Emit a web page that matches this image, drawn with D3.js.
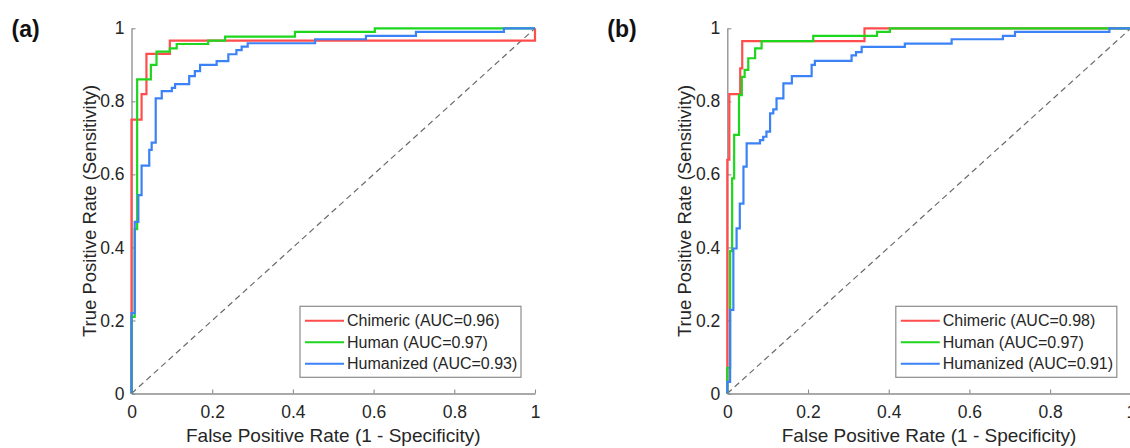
<!DOCTYPE html>
<html>
<head>
<meta charset="utf-8">
<script src="https://cdn.jsdelivr.net/npm/d3@7"></script>
<style>
  body { margin: 0; background: #fff; }
  svg { display: block; font-family: "Liberation Sans", Arial, sans-serif; }
</style>
</head>
<body>
<svg id="roc"></svg>
<script>
// ROC step points, panel (a)
const chimericA_fpr = [0, 0, 0.025, 0.037, 0.095, 1];
const chimericA_tpr = [0, 0.75, 0.82, 0.93, 0.966, 1];
const humanA_fpr = [0, 0, 0.008, 0.014, 0.048, 0.062, 0.095, 0.112, 0.19, 0.232, 0.405, 0.603, 1];
const humanA_tpr = [0, 0.21, 0.45, 0.86, 0.90, 0.936, 0.945, 0.957, 0.966, 0.977, 0.99, 1, 1];
const humanizedA_fpr = [0, 0, 0.008, 0.017, 0.025, 0.044, 0.05, 0.06, 0.075, 0.1, 0.108, 0.143, 0.157, 0.17, 0.211, 0.24, 0.26, 0.273, 0.288, 0.455, 0.581, 0.705, 0.923, 1];
const humanizedA_tpr = [0, 0.22, 0.47, 0.543, 0.624, 0.667, 0.687, 0.808, 0.828, 0.837, 0.847, 0.869, 0.883, 0.90, 0.91, 0.929, 0.94, 0.95, 0.959, 0.97, 0.979, 0.99, 1, 1];

// ROC step points, panel (b)
const chimericB_fpr = [0, 0, 0.005, 0.032, 0.037, 0.34, 1];
const chimericB_tpr = [0, 0.64, 0.82, 0.89, 0.965, 1, 1];
const humanB_fpr = [0, 0, 0.007, 0.012, 0.017, 0.029, 0.036, 0.043, 0.052, 0.069, 0.085, 0.213, 0.371, 0.403, 1];
const humanB_tpr = [0, 0.07, 0.39, 0.589, 0.708, 0.817, 0.867, 0.886, 0.918, 0.945, 0.965, 0.979, 0.99, 1, 1];
const humanizedB_fpr = [0, 0, 0.007, 0.015, 0.023, 0.031, 0.04, 0.048, 0.081, 0.089, 0.097, 0.106, 0.114, 0.122, 0.139, 0.16, 0.209, 0.217, 0.308, 0.319, 0.333, 0.44, 0.556, 0.683, 0.713, 0.947, 1];
const humanizedB_tpr = [0, 0.032, 0.229, 0.397, 0.452, 0.52, 0.621, 0.685, 0.694, 0.703, 0.717, 0.767, 0.778, 0.808, 0.849, 0.869, 0.90, 0.911, 0.926, 0.935, 0.949, 0.958, 0.97, 0.979, 0.99, 1, 1];

const seriesNames = ['Chimeric', 'Human', 'Humanized'];
const seriesColors = ['#ff4d4d', '#1fd61f', '#3b82f6'];
const aucA = ['0.96', '0.97', '0.93'];
const aucB = ['0.98', '0.97', '0.91'];
const tickValues = [0, 0.2, 0.4, 0.6, 0.8, 1];
const panelLabels = ['(a)', '(b)'];

const svg = d3.select('svg#roc')
  .attr('width', 1130)
  .attr('height', 448);

const plotW = 403.5;
const plotH = 365.2;
const plotTop = 28.3;

function drawPanel(left, label, curves, auc) {
  const x = d3.scaleLinear().domain([0, 1]).range([0, plotW]);
  const y = d3.scaleLinear().domain([0, 1]).range([plotH, 0]);

  const g = svg.append('g')
    .attr('transform', `translate(${left}, ${plotTop})`);

  // chance line
  g.append('line')
    .attr('x1', x(0)).attr('y1', y(0))
    .attr('x2', x(1)).attr('y2', y(1))
    .attr('stroke', '#6b6b6b')
    .attr('stroke-width', 1.2)
    .attr('stroke-dasharray', '6,4');

  const fmt = d => d === 0 || d === 1 ? String(d) : d.toFixed(1);

  const yAxis = g.append('g')
    .call(d3.axisLeft(y).tickValues(tickValues).tickFormat(fmt)
      .tickSizeInner(-4).tickSizeOuter(0).tickPadding(7));
  const xAxis = g.append('g')
    .attr('transform', `translate(0, ${plotH})`)
    .call(d3.axisBottom(x).tickValues(tickValues).tickFormat(fmt)
      .tickSizeInner(-4).tickSizeOuter(0).tickPadding(12));

  [xAxis, yAxis].forEach(ax => {
    ax.select('.domain').attr('stroke', '#8c8c8c').attr('stroke-width', 1.3);
    ax.selectAll('.tick line').attr('stroke', '#8c8c8c').attr('stroke-width', 1.1);
    ax.selectAll('.tick text')
      .attr('fill', '#262626')
      .style('font-size', '17.5px')
      .style('font-family', '"Liberation Sans", Arial, sans-serif');
  });

  const line = d3.line()
    .x(d => x(d[0]))
    .y(d => y(d[1]))
    .curve(d3.curveStepAfter);

  curves.forEach((c, i) => {
    g.append('path')
      .datum(d3.zip(c[0], c[1]))
      .attr('fill', 'none')
      .attr('stroke', seriesColors[i])
      .attr('stroke-width', 2.2)
      .attr('d', line);
  });

  // axis titles
  g.append('text')
    .attr('x', plotW / 2)
    .attr('y', plotH + 49)
    .attr('text-anchor', 'middle')
    .attr('fill', '#262626')
    .style('font-size', '19px')
    .text('False Positive Rate (1 - Specificity)');

  g.append('text')
    .attr('transform', `translate(-36, ${plotH / 2}) rotate(-90)`)
    .attr('text-anchor', 'middle')
    .attr('fill', '#262626')
    .style('font-size', '18.5px')
    .text('True Positive Rate (Sensitivity)');

  // panel label
  svg.append('text')
    .attr('x', left - 120)
    .attr('y', 37)
    .attr('font-weight', 'bold')
    .attr('fill', '#111')
    .style('font-size', '23px')
    .text(label);

  // legend
  const legX = plotW - 235;
  const legY = 278;
  const legend = g.append('g').attr('transform', `translate(${legX}, ${legY})`);
  legend.append('rect')
    .attr('width', 221)
    .attr('height', 71)
    .attr('fill', '#fff')
    .attr('stroke', '#8c8c8c')
    .attr('stroke-width', 1.2);
  seriesNames.forEach((name, i) => {
    const ly = 14.5 + i * 21.5;
    legend.append('line')
      .attr('x1', 5).attr('x2', 44)
      .attr('y1', ly).attr('y2', ly)
      .attr('stroke', seriesColors[i])
      .attr('stroke-width', 2);
    legend.append('text')
      .attr('x', 47)
      .attr('y', ly)
      .attr('dy', '0.35em')
      .attr('fill', '#262626')
      .style('font-size', '16px')
      .text(`${name} (AUC=${auc[i]})`);
  });
}

drawPanel(131.5, panelLabels[0],
  [[chimericA_fpr, chimericA_tpr], [humanA_fpr, humanA_tpr], [humanizedA_fpr, humanizedA_tpr]],
  aucA);
drawPanel(727.3, panelLabels[1],
  [[chimericB_fpr, chimericB_tpr], [humanB_fpr, humanB_tpr], [humanizedB_fpr, humanizedB_tpr]],
  aucB);
</script>
</body>
</html>
